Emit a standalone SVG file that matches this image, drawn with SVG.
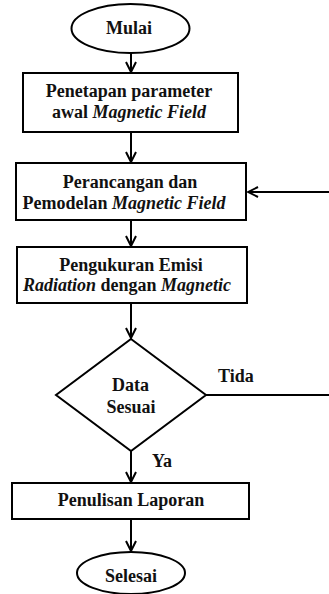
<svg xmlns="http://www.w3.org/2000/svg" width="329" height="594" viewBox="0 0 329 594">
<defs>
<marker id="a" viewBox="0 0 12 12" refX="11" refY="6" markerWidth="12" markerHeight="12" markerUnits="userSpaceOnUse" orient="auto">
<path d="M1,1 L11,6 L1,11" fill="none" stroke="#000" stroke-width="2"/>
</marker>
</defs>
<g id="connectors" fill="none" stroke="#000" stroke-width="2">
<line x1="131" y1="53" x2="131" y2="72" marker-end="url(#a)"/>
<line x1="131" y1="132" x2="131" y2="162" marker-end="url(#a)"/>
<line x1="131" y1="220" x2="131" y2="246" marker-end="url(#a)"/>
<line x1="131" y1="303" x2="131" y2="338" marker-end="url(#a)"/>
<line x1="131" y1="451" x2="131" y2="482" marker-end="url(#a)"/>
<line x1="131" y1="519" x2="131" y2="551" marker-end="url(#a)"/>
<line x1="206" y1="395" x2="329" y2="395"/>
<line x1="329" y1="192" x2="248" y2="192" marker-end="url(#a)"/>
</g>
<text x="218" y="382" font-family="Liberation Serif" font-weight="bold" font-size="18" fill="#111" style="font-family:'Liberation Serif'">Tida</text>
<text x="152" y="467" font-family="Liberation Serif" font-weight="bold" font-size="18" fill="#111" style="font-family:'Liberation Serif'">Ya</text>
<g id="mulai">
<ellipse cx="130.5" cy="28.5" rx="59" ry="24.5" fill="#fff" stroke="#000" stroke-width="2"/>
<text x="129" y="34" font-family="Liberation Serif" font-weight="bold" font-size="18" fill="#111" text-anchor="middle" style="font-family:'Liberation Serif'">Mulai</text>
</g>
<g id="penetapan">
<rect x="23" y="73" width="215" height="59" fill="#fff" stroke="#000" stroke-width="2"/>
<text x="129" y="97" font-family="Liberation Serif" font-weight="bold" font-size="18" fill="#111" text-anchor="middle" style="font-family:'Liberation Serif'">Penetapan parameter</text>
<text x="129" y="118" font-family="Liberation Serif" font-weight="bold" font-size="18" fill="#111" text-anchor="middle" style="font-family:'Liberation Serif'">awal <tspan font-style="italic">Magnetic Field</tspan></text>
</g>
<g id="perancangan">
<rect x="16" y="163" width="230" height="57" fill="#fff" stroke="#000" stroke-width="2"/>
<text x="130" y="188" font-family="Liberation Serif" font-weight="bold" font-size="18" fill="#111" text-anchor="middle" style="font-family:'Liberation Serif'">Perancangan dan</text>
<text x="124" y="209" font-family="Liberation Serif" font-weight="bold" font-size="18" fill="#111" text-anchor="middle" style="font-family:'Liberation Serif'">Pemodelan <tspan font-style="italic">Magnetic Field</tspan></text>
</g>
<g id="pengukuran">
<rect x="17" y="247" width="230" height="56" fill="#fff" stroke="#000" stroke-width="2"/>
<text x="131" y="271" font-family="Liberation Serif" font-weight="bold" font-size="18" fill="#111" text-anchor="middle" style="font-family:'Liberation Serif'">Pengukuran Emisi</text>
<text x="127" y="291" font-family="Liberation Serif" font-weight="bold" font-size="18" fill="#111" text-anchor="middle" style="font-family:'Liberation Serif'"><tspan font-style="italic">Radiation</tspan> dengan <tspan font-style="italic">Magnetic</tspan></text>
</g>
<g id="data-sesuai">
<polygon points="131,339 206,395 131,451 56,395" fill="#fff" stroke="#000" stroke-width="2"/>
<text x="130.5" y="391" font-family="Liberation Serif" font-weight="bold" font-size="18" fill="#111" text-anchor="middle" style="font-family:'Liberation Serif'">Data</text>
<text x="131" y="413" font-family="Liberation Serif" font-weight="bold" font-size="18" fill="#111" text-anchor="middle" style="font-family:'Liberation Serif'">Sesuai</text>
</g>
<g id="penulisan">
<rect x="12" y="483" width="237" height="36" fill="#fff" stroke="#000" stroke-width="2"/>
<text x="131" y="506" font-family="Liberation Serif" font-weight="bold" font-size="18" fill="#111" text-anchor="middle" style="font-family:'Liberation Serif'">Penulisan Laporan</text>
</g>
<g id="selesai">
<ellipse cx="131" cy="573" rx="54" ry="21" fill="#fff" stroke="#000" stroke-width="2"/>
<text x="131" y="582" font-family="Liberation Serif" font-weight="bold" font-size="18" fill="#111" text-anchor="middle" style="font-family:'Liberation Serif'">Selesai</text>
</g>
</svg>
